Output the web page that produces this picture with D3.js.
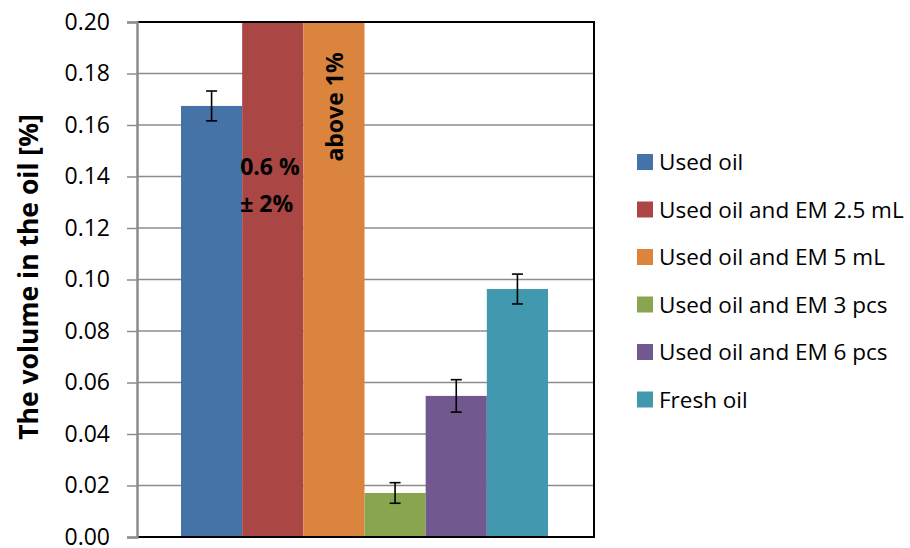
<!DOCTYPE html>
<html>
<head>
<meta charset="utf-8">
<script src="https://cdn.jsdelivr.net/npm/d3@7"></script>
<style>
  html, body { margin: 0; padding: 0; background: #fff; }
  svg text { font-family: "Open Sans", Lato, "DejaVu Sans", sans-serif; }
</style>
</head>
<body>
<svg id="chart" width="910" height="548"></svg>
<script>
const series = ["Used oil", "Used oil and EM 2.5 mL", "Used oil and EM 5 mL", "Used oil and EM 3 pcs", "Used oil and EM 6 pcs", "Fresh oil"];
const values = [0.1674, 0.6, 1.0, 0.0171, 0.0548, 0.0963];
const errors = [0.0058, null, null, 0.004, 0.0063, 0.0058];
const colors = ["#4572A7", "#AA4643", "#DB843D", "#89A54E", "#71588F", "#4198AF"];
const yTicks = [0, 0.02, 0.04, 0.06, 0.08, 0.10, 0.12, 0.14, 0.16, 0.18, 0.20];
const barNotes = [null, ["0.6 %", "± 2%"], ["above 1%"], null, null, null];
const yTitle = "The volume in the oil [%]";

const svg = d3.select("#chart");
const pL = 137, pR = 594, pT = 22, pB = 537;

const y = d3.scaleLinear().domain([0, 0.20]).range([pB, pT]);
const x = d3.scaleBand().domain(series).range([181, 548]).padding(0);

// gridlines
svg.append("g").selectAll("line").data(yTicks.filter(d => d > 0)).join("line")
  .attr("x1", pL).attr("x2", pR)
  .attr("y1", d => y(d)).attr("y2", d => y(d))
  .attr("stroke", "#8c8c8c").attr("stroke-width", 1.5);

// clip
svg.append("clipPath").attr("id", "plotclip").append("rect")
  .attr("x", pL).attr("y", pT).attr("width", pR - pL).attr("height", pB - pT);

const bars = svg.append("g").attr("clip-path", "url(#plotclip)");
bars.selectAll("rect").data(series).join("rect")
  .attr("x", d => x(d))
  .attr("width", x.bandwidth())
  .attr("y", (d, i) => y(values[i]))
  .attr("height", (d, i) => y(0) - y(values[i]))
  .attr("fill", (d, i) => colors[i]);

// error bars
const eb = svg.append("g").attr("stroke", "#000").attr("stroke-width", 1.6);
series.forEach((s, i) => {
  if (errors[i] == null) return;
  const cx = x(s) + x.bandwidth() / 2;
  const y1 = y(values[i] + errors[i]), y2 = y(values[i] - errors[i]);
  eb.append("line").attr("x1", cx).attr("x2", cx).attr("y1", y1).attr("y2", y2);
  eb.append("line").attr("x1", cx - 5.5).attr("x2", cx + 5.5).attr("y1", y1).attr("y2", y1);
  eb.append("line").attr("x1", cx - 5.5).attr("x2", cx + 5.5).attr("y1", y2).attr("y2", y2);
});

// frame (top, right, bottom black)
svg.append("path")
  .attr("d", `M${pL},${pT}H${pR}V${pB}H${pL}`)
  .attr("fill", "none").attr("stroke", "#000").attr("stroke-width", 2);

// y axis
const yAxis = d3.axisLeft(y).tickValues(yTicks).tickFormat(d3.format(".2f")).tickSize(10).tickPadding(17);
const ga = svg.append("g").attr("transform", `translate(${pL},0)`).call(yAxis);
ga.select(".domain").attr("stroke", "#8c8c8c").attr("stroke-width", 2.5);
ga.selectAll(".tick line").attr("stroke", "#8c8c8c").attr("stroke-width", 1.5);
ga.selectAll(".tick text").attr("fill", "#000").style("font-size", "23px").style("font-family", "'Open Sans', sans-serif");

// y title
svg.append("text")
  .attr("transform", `translate(38,277) rotate(-90)`)
  .attr("text-anchor", "middle")
  .style("font-size", "26.5px").style("font-weight", "bold")
  .text(yTitle);

// bar notes
const noteRed = barNotes[1];
svg.append("text").attr("x", x(series[1]) - 2).attr("y", 175)
  .style("font-size", "23px").style("font-weight", "bold").text(noteRed[0]);
svg.append("text").attr("x", x(series[1]) - 2).attr("y", 212)
  .style("font-size", "23px").style("font-weight", "bold").text(noteRed[1]);
svg.append("text")
  .attr("transform", `translate(${x(series[2]) + x.bandwidth() / 2 + 9},${107}) rotate(-90)`)
  .attr("text-anchor", "middle")
  .style("font-size", "23px").style("font-weight", "bold").text(barNotes[2][0]);

// legend
const lg = svg.append("g");
series.forEach((s, i) => {
  const cy = 162 + i * 47.5;
  lg.append("rect").attr("x", 637).attr("y", cy - 8).attr("width", 16).attr("height", 16).attr("fill", colors[i]);
  lg.append("text").attr("x", 659).attr("y", cy + 8)
    .style("font-size", "22.5px").text(s);
});
</script>
</body>
</html>
